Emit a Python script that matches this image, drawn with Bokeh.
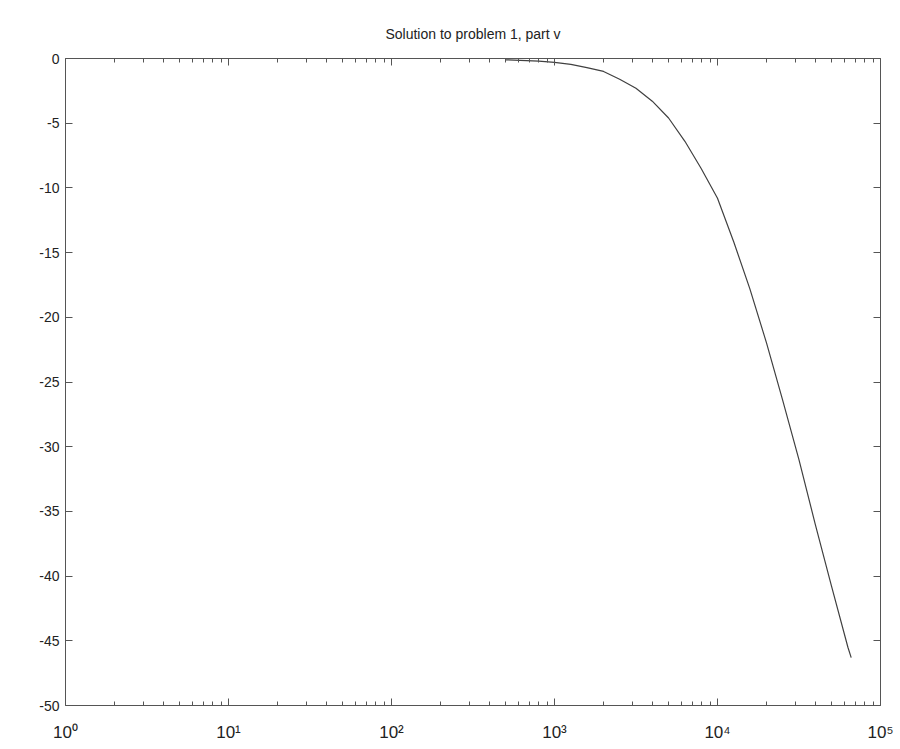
from bokeh.plotting import figure
from bokeh.models import LogAxis, LinearAxis, FixedTicker, Range1d
from bokeh.embed import file_html
from bokeh.resources import INLINE

# Frequency response
freq = [500, 800, 1000, 1260, 1580, 2000, 2510, 3160, 3980, 5010, 6310, 7940,
        10000, 12600, 15800, 20000, 25100, 31600, 39800, 50100, 63100, 66100]
mag_db = [-0.1, -0.2, -0.3, -0.45, -0.7, -1.0, -1.6, -2.3, -3.3, -4.6, -6.4, -8.5,
          -10.8, -14.2, -17.8, -22.0, -26.4, -31.0, -36.0, -40.8, -45.5, -46.3]

x_ticks = [1, 10, 100, 1000, 10000, 100000]
x_labels = ["10⁰", "10¹", "10²", "10³", "10⁴", "10⁵"]
y_ticks = [0, -5, -10, -15, -20, -25, -30, -35, -40, -45, -50]
y_labels = ["0", "-5", "-10", "-15", "-20", "-25", "-30", "-35", "-40", "-45", "-50"]

title = "Solution to problem 1, part v"
font = "Liberation Sans"
axis_color = "#555555"

p = figure(width=900, height=749, x_axis_type="log",
           x_range=Range1d(1, 100000), y_range=Range1d(-50, 0),
           output_backend="svg", toolbar_location=None,
           min_border_left=65, min_border_right=20,
           min_border_top=58, min_border_bottom=44,
           title=title)
p.title.align = "center"
p.title.text_font = font
p.title.text_font_style = "normal"
p.title.text_font_size = "14px"
p.title.text_color = "#222222"
p.title.standoff = 33
p.outline_line_color = None
p.background_fill_color = "white"
p.border_fill_color = "white"
p.xgrid.grid_line_color = None
p.ygrid.grid_line_color = None

p.line(freq, mag_db, line_color="#404040", line_width=1.2)

def style_x(ax, labels=True):
    ax.ticker = FixedTicker(ticks=x_ticks,
                            minor_ticks=[k * 10 ** n for n in range(5) for k in range(2, 10)])
    ax.major_label_overrides = {t: (l if labels else "") for t, l in zip(x_ticks, x_labels)}
    ax.major_tick_in = 7
    ax.major_tick_out = 0
    ax.minor_tick_in = 4
    ax.minor_tick_out = 0
    ax.axis_line_color = axis_color
    ax.major_tick_line_color = axis_color
    ax.minor_tick_line_color = axis_color
    ax.major_label_text_font = font
    ax.major_label_text_font_size = "17px"
    ax.major_label_text_color = "#222222"
    ax.major_label_standoff = 17

def style_y(ax, labels=True):
    ax.ticker = FixedTicker(ticks=y_ticks)
    ax.major_label_overrides = {t: (l if labels else "") for t, l in zip(y_ticks, y_labels)}
    ax.major_tick_in = 7
    ax.major_tick_out = 0
    ax.minor_tick_line_color = None
    ax.axis_line_color = axis_color
    ax.major_tick_line_color = axis_color
    ax.major_label_text_font = font
    ax.major_label_text_font_size = "14px"
    ax.major_label_text_color = "#222222"
    ax.major_label_standoff = 6

style_x(p.xaxis[0])
style_y(p.yaxis[0])

top = LogAxis()
style_x(top, labels=False)
p.add_layout(top, "above")
right = LinearAxis()
style_y(right, labels=False)
p.add_layout(right, "right")

open("out.html", "w").write(file_html(p, INLINE))
